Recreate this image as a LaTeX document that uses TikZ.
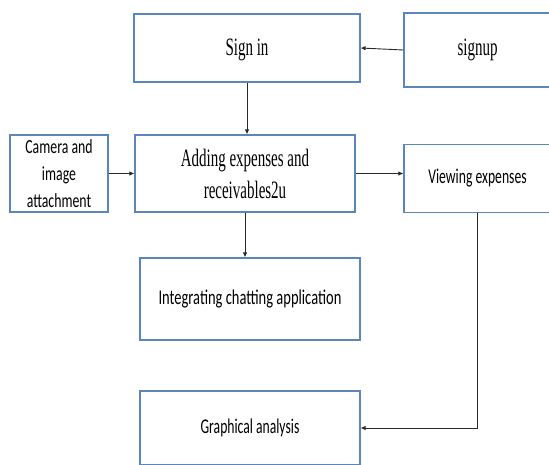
\documentclass[tikz,border=0pt]{standalone}
\usepackage{fontspec}
\setmainfont{Liberation Serif}
\newfontfamily\cserif[FakeStretch=0.6]{Liberation Serif}
\newfontfamily\csans[FakeStretch=0.65]{Carlito}
\newfontfamily\csanswide[FakeStretch=0.69]{Carlito}
\usetikzlibrary{arrows.meta}
\definecolor{boxblue}{RGB}{91,133,189}
\definecolor{linegray}{RGB}{40,40,40}
\tikzset{
  box/.style={draw=boxblue, line width=1.1pt, fill=white, rectangle, inner sep=0pt, align=center},
  serifbox/.style={box, font=\cserif\fontsize{25}{32}\selectfont},
  sansbox/.style={box, font=\csans\fontsize{21}{27}\selectfont},
  arr/.style={draw=linegray, line width=0.9pt, -{Latex[length=5pt,width=4.5pt]}}
}
\begin{document}
\begin{tikzpicture}[x=1pt,y=-1pt]
\useasboundingbox (0,0) rectangle (549,464);
\node[serifbox, minimum width=226, minimum height=68, text depth=2pt] (signin) at (247,48) {Sign in};
\node[serifbox, minimum width=147, minimum height=74] (signup) at (477.5,50) {signup};
\node[sansbox, font=\csanswide\fontsize{20}{26.7}\selectfont, minimum width=98, minimum height=77] (camera) at (59,173.5) {Camera and\\image\\attachment};
\node[serifbox, minimum width=220, minimum height=77] (adding) at (245,173.5) {Adding expenses and\\receivables2u};
\node[sansbox, minimum width=147, minimum height=68] (viewing) at (477.5,178.3) {Viewing expenses};
\node[sansbox, font=\csanswide\fontsize{21}{27}\selectfont, minimum width=220, minimum height=82] (integrating) at (250,299) {Integrating chatting application};
\node[sansbox, minimum width=220, minimum height=74] (graphical) at (250,428) {Graphical analysis};
\draw[arr] (signup.west) -- (signin.east);
\draw[arr] (signin.south) -- (signin.south |- adding.north);
\draw[arr] (camera.east) -- (adding.west);
\draw[arr] (adding.east) -- (adding.east -| viewing.west);
\draw[arr] (adding.south) -- (adding.south |- integrating.north);
\draw[arr] (viewing.south) |- (graphical.east);
\end{tikzpicture}
\end{document}
